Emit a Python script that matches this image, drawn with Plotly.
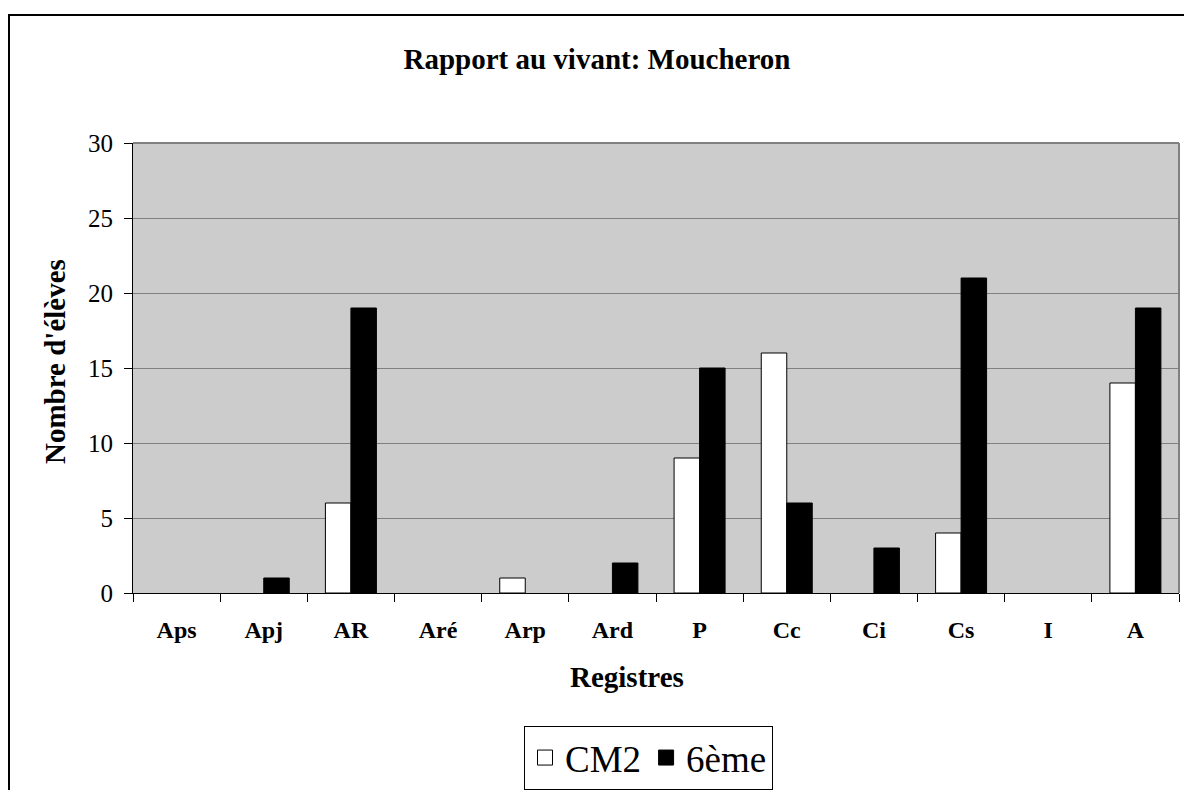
import plotly.graph_objects as go

categories = ["Aps", "Apj", "AR", "Aré", "Arp", "Ard", "P", "Cc", "Ci", "Cs", "I", "A"]
cm2 = [0, 0, 6, 0, 1, 0, 9, 16, 0, 4, 0, 14]
sixieme = [0, 1, 19, 0, 0, 2, 15, 6, 3, 21, 0, 19]
y_ticks = [0, 5, 10, 15, 20, 25, 30]

FONT = "Liberation Serif, Times New Roman, serif"

def outline(vals):
    return [1 if v > 0 else 0 for v in vals]

fig = go.Figure()
fig.add_trace(go.Bar(x=categories, y=cm2, name="CM2", showlegend=False,
                     marker=dict(color="white", line=dict(color="black", width=outline(cm2)))))
fig.add_trace(go.Bar(x=categories, y=sixieme, name="6ème", showlegend=False,
                     marker=dict(color="black", line=dict(color="black", width=outline(sixieme)))))
# legend entries (square symbols)
fig.add_trace(go.Scatter(x=[None], y=[None], mode="markers", name="CM2",
                         marker=dict(symbol="square", size=15, color="white",
                                     line=dict(color="black", width=1))))
fig.add_trace(go.Scatter(x=[None], y=[None], mode="markers", name="6ème",
                         marker=dict(symbol="square", size=15, color="black",
                                     line=dict(color="black", width=1))))

L, R, T, B = 133, 1179, 143, 593
W, H = 1184, 790
pw, ph = R - L, B - T

def px_x(px):
    return (px - L) / pw

def px_y(py):
    return (B - py) / ph

fig.update_layout(
    width=W, height=H,
    margin=dict(l=L, r=W - R, t=T, b=H - B, pad=0, autoexpand=False),
    paper_bgcolor="white",
    plot_bgcolor="#cccccc",
    font=dict(family=FONT, color="black"),
    barmode="group",
    bargap=0.415,
    bargroupgap=0,
    title=dict(text="<b>Rapport au vivant: Moucheron</b>", x=(597) / W, xanchor="center",
               xref="container", y=1 - 59 / H, yref="container", yanchor="middle",
               font=dict(size=29, family=FONT, color="black")),
    showlegend=True,
    legend=dict(orientation="h", x=524 / W, xanchor="left", xref="container",
                y=1 - 790 / H, yanchor="bottom", yref="container",
                bordercolor="black", borderwidth=1, bgcolor="white",
                font=dict(size=37, family=FONT), itemsizing="trace",
                traceorder="normal"),
    xaxis=dict(type="category", showgrid=False, showline=True, linecolor="black", linewidth=1,
               ticks="outside", tickson="boundaries", ticklen=8, tickcolor="black",
               tickfont=dict(size=24, family=FONT, color="black"),
               ticklabelstandoff=15, zeroline=False, automargin=False),
    yaxis=dict(range=[0, 30], tickvals=y_ticks, showgrid=True, gridcolor="#808080", gridwidth=1,
               showline=True, linecolor="black", linewidth=1, ticks="outside", ticklen=8,
               tickcolor="black", tickfont=dict(size=25, family=FONT, color="black"),
               zeroline=False, ticklabelstandoff=6, automargin=False),
    annotations=[
        dict(text="<b>Nombre d'élèves</b>", textangle=-90, xref="paper", yref="paper",
             x=px_x(55), y=px_y(362), xanchor="center", yanchor="middle", showarrow=False,
             font=dict(size=29, family=FONT, color="black")),
        dict(text="<b>Registres</b>", xref="paper", yref="paper",
             x=px_x(627), y=px_y(677), xanchor="center", yanchor="middle", showarrow=False,
             font=dict(size=29, family=FONT, color="black")),
    ],
    shapes=[
        dict(type="rect", xref="paper", yref="paper", x0=px_x(9), x1=px_x(1200),
             y0=px_y(810), y1=px_y(15), line=dict(color="black", width=2), layer="below"),
        dict(type="line", xref="paper", yref="paper", x0=1, x1=1, y0=0, y1=1,
             line=dict(color="#808080", width=2)),
        dict(type="line", xref="paper", yref="paper", x0=0, x1=1, y0=1, y1=1,
             line=dict(color="#808080", width=2)),
    ],
)

fig.update_xaxes(ticktext=["<b>%s</b>" % c for c in categories], tickvals=categories)

fig.write_html("out.html", config={"displayModeBar": False},
               post_script="document.body.style.margin='0';document.body.style.overflow='hidden';")
